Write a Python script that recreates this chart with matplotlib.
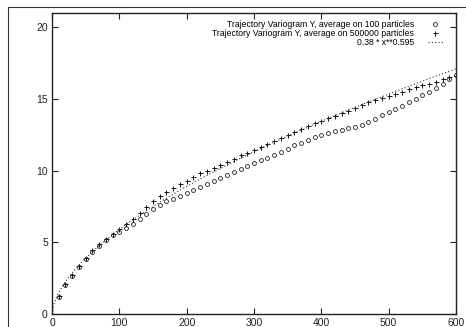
import matplotlib
matplotlib.use("Agg")
import matplotlib.pyplot as plt
import numpy as np
from matplotlib.lines import Line2D

plt.rcParams['font.family'] = ['Liberation Sans', 'DejaVu Sans']

x_vals = list(range(10, 601, 10))

y_100 = [1.2, 2.0, 2.65, 3.3, 3.8, 4.35, 4.75, 5.15, 5.5, 5.75,
         6.0, 6.3, 6.6, 7.0, 7.3, 7.6, 7.85, 8.05, 8.25, 8.45,
         8.65, 8.85, 9.05, 9.25, 9.45, 9.7, 9.9, 10.1, 10.3, 10.5,
         10.7, 10.9, 11.1, 11.3, 11.5, 11.75, 11.95, 12.15, 12.35, 12.5,
         12.6, 12.75, 12.85, 12.95, 13.05, 13.2, 13.4, 13.6, 13.85, 14.1,
         14.3, 14.5, 14.75, 15.0, 15.25, 15.5, 15.75, 16.05, 16.35, 16.65]

y_500000 = [1.25, 2.1, 2.75, 3.35, 3.9, 4.45, 4.85, 5.25, 5.6, 5.95,
            6.3, 6.65, 7.05, 7.45, 7.85, 8.2, 8.5, 8.8, 9.05, 9.3,
            9.55, 9.8, 10.0, 10.2, 10.4, 10.6, 10.8, 11.05, 11.25, 11.45,
            11.65, 11.85, 12.05, 12.25, 12.45, 12.7, 12.9, 13.1, 13.3, 13.45,
            13.65, 13.8, 14.0, 14.15, 14.35, 14.55, 14.75, 14.9, 15.05, 15.2,
            15.35, 15.5, 15.65, 15.8, 15.95, 16.05, 16.2, 16.35, 16.5, 16.6]

fit_coef = 0.38
fit_exp = 0.595

labels = ["Trajectory Variogram Y, average on 100 particles",
          "Trajectory Variogram Y, average on 500000 particles",
          "0.38 * x**0.595"]

x_ticks = [0, 100, 200, 300, 400, 500, 600]
y_ticks = [0, 5, 10, 15, 20]

fig = plt.figure(figsize=(4.66, 3.27), dpi=100)
ax = fig.add_axes([52/466, 13/327, 404/466, 301.3/327])

xf = np.linspace(0, 600, 200)
ax.plot(x_vals, y_100, linestyle='none', marker='o', markersize=2.8,
        markerfacecolor='none', markeredgecolor='#222222', markeredgewidth=0.6,
        label=labels[0])
ax.plot(x_vals, y_500000, linestyle='none', marker='+', markersize=3.6,
        color='#111111', markeredgewidth=0.7, label=labels[1])
ax.plot(xf, fit_coef * xf ** fit_exp, linestyle=(0, (1, 2)), color='#333333',
        linewidth=0.8, label=labels[2])

ax.set_xlim(0, 600)
ax.set_ylim(0, 21)
ax.set_xticks(x_ticks)
ax.set_yticks(y_ticks)
ax.tick_params(direction='in', length=4, width=0.8, top=True, right=True,
               labelsize=7.5, pad=3, colors='#222222')
for s in ax.spines.values():
    s.set_linewidth(1.0)
    s.set_color('#222222')

leg = ax.legend(loc='upper right', markerfirst=False, frameon=False,
                fontsize=6.2, handlelength=1.8, handletextpad=1.6,
                labelspacing=0.0, borderaxespad=0.0, borderpad=0.0,
                numpoints=1, bbox_to_anchor=(0.968, 0.976))

# outer frame of the scanned page
fig.add_artist(Line2D([8/466, 8/466], [0, 1 - 7/327], transform=fig.transFigure,
                      color='#333333', linewidth=0.8))
fig.add_artist(Line2D([8/466, 1], [1 - 7/327, 1 - 7/327], transform=fig.transFigure,
                      color='#333333', linewidth=0.8))

fig.savefig('out.png', dpi=100)
